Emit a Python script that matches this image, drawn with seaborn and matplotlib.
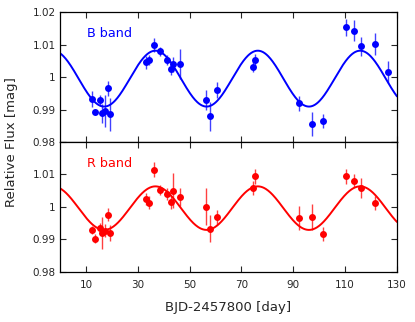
import numpy as np
import pandas as pd
from matplotlib import pyplot as plt
from matplotlib.ticker import FuncFormatter
import seaborn as sns

# B band photometry
b_day = [12.2, 13.5, 15.6, 16.3, 17.4, 18.5, 19.4,
         33.3, 34.4, 36.4, 38.6, 41.4, 42.8, 43.4, 46.3,
         56.2, 58.0, 60.4,
         74.3, 75.3,
         92.3, 97.3, 101.3,
         110.3, 113.4, 116.3, 121.4, 126.4]
b_flux = [0.9933, 0.9893, 0.9928, 0.9888, 0.9896, 0.9965, 0.9885,
          1.0046, 1.0052, 1.0098, 1.0079, 1.0052, 1.0026, 1.0039, 1.0039,
          0.9930, 0.9879, 0.9960,
          1.0032, 1.0051,
          0.9919, 0.9855, 0.9865,
          1.0153, 1.0142, 1.0094, 1.0102, 1.0016]
b_err = [0.0024, 0.0010, 0.0017, 0.0030, 0.0049, 0.0024, 0.0050,
         0.0020, 0.0015, 0.0022, 0.0013, 0.0015, 0.0020, 0.0023, 0.0046,
         0.0030, 0.0044, 0.0026,
         0.0018, 0.0020,
         0.0023, 0.0036, 0.0022,
         0.0027, 0.0032, 0.0028, 0.0034, 0.0033]

# R band photometry
r_day = [12.5, 13.5, 15.6, 16.3, 17.4, 18.5, 19.4,
         33.3, 34.4, 36.4, 38.6, 41.4, 42.8, 43.4, 46.3,
         56.2, 58.0, 60.4,
         74.3, 75.3,
         92.3, 97.3, 101.3,
         110.3, 113.4, 116.3, 121.4]
r_flux = [0.9929, 0.9903, 0.9936, 0.9920, 0.9927, 0.9976, 0.9920,
          1.0025, 1.0013, 1.0115, 1.0053, 1.0041, 1.0014, 1.0050, 1.0031,
          1.0001, 0.9933, 0.9969,
          1.0058, 1.0095,
          0.9966, 0.9969, 0.9916,
          1.0094, 1.0081, 1.0058, 1.0012]
r_err = [0.0012, 0.0013, 0.0014, 0.0049, 0.0020, 0.0020, 0.0026,
         0.0019, 0.0020, 0.0023, 0.0015, 0.0018, 0.0020, 0.0054, 0.0028,
         0.0057, 0.0042, 0.0023,
         0.0022, 0.0023,
         0.0036, 0.0039, 0.0022,
         0.0024, 0.0021, 0.0030, 0.0022]

# sinusoid fit parameters
fit_period = 39.5
fit_peak_day = 36.8
b_fit_mean, b_fit_amp = 0.9995, 0.0086
r_fit_mean, r_fit_amp = 0.99965, 0.0067

sns.set_style("ticks")
plt.rcParams['font.family'] = ['DejaVu Sans']

fig = plt.figure(figsize=(4.15, 3.22), dpi=100)
ax_b = fig.add_axes([0.1446, 0.559, 0.812, 0.4037])
ax_r = fig.add_axes([0.1446, 0.1553, 0.812, 0.4037], sharex=ax_b)

t = np.linspace(0, 130, 600)
panels = [
    (ax_b, b_day, b_flux, b_err, b_fit_mean, b_fit_amp, "blue", "B band"),
    (ax_r, r_day, r_flux, r_err, r_fit_mean, r_fit_amp, "red", "R band"),
]
for ax, day, flux, err, mean, amp, color, label in panels:
    model = pd.DataFrame({"day": t,
                          "flux": mean + amp * np.cos(2 * np.pi * (t - fit_peak_day) / fit_period)})
    sns.lineplot(data=model, x="day", y="flux", color=color, lw=1.4, ax=ax)
    ax.errorbar(day, flux, yerr=err, fmt="none", ecolor=color, elinewidth=1.0,
                alpha=0.75, capsize=0)
    sns.scatterplot(x=day, y=flux, color=color, s=25, edgecolor=color,
                    linewidth=0, ax=ax, zorder=3)
    ax.text(0.079, 0.838, label, color=color, fontsize=9.2,
            transform=ax.transAxes, va="center", ha="left")
    ax.set_xlim(0, 130)
    ax.set_ylim(0.98, 1.02)
    ax.set_xticks([10, 30, 50, 70, 90, 110, 130])
    ax.set_yticks([0.98, 0.99, 1.0, 1.01, 1.02])
    ax.yaxis.set_major_formatter(FuncFormatter(lambda v, p: "%g" % round(v, 3)))
    ax.tick_params(direction="in", top=True, right=True, length=4.5, width=0.8,
                   labelsize=7.5, pad=3)
    ax.tick_params(axis="x", pad=6)
    for sp in ax.spines.values():
        sp.set_linewidth(0.9)
        sp.set_color("black")
    ax.set_xlabel("")
    ax.set_ylabel("")

ax_b.tick_params(labelbottom=False)
ax_r.set_yticklabels(["0.98", "0.99", "1", "1.01", ""])
ax_r.set_xlabel("BJD-2457800 [day]", fontsize=9.5, labelpad=8)
fig.text(0.027, 0.559, "Relative Flux [mag]", rotation=90, fontsize=9.5,
         va="center", ha="center")

fig.savefig("out.png", dpi=100)
